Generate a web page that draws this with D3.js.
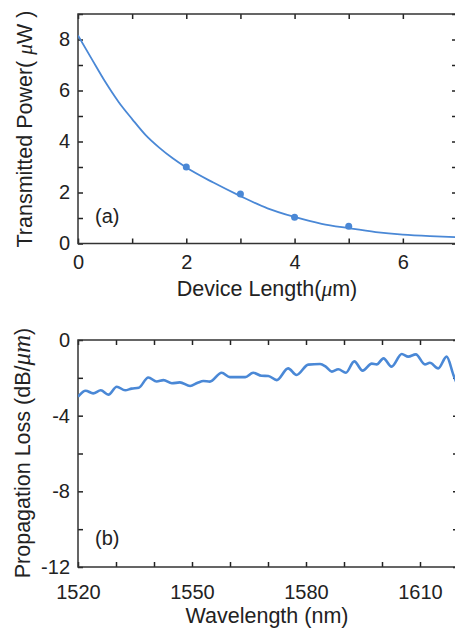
<!DOCTYPE html>
<html>
<head>
<meta charset="utf-8">
<script src="https://cdn.jsdelivr.net/npm/d3@7"></script>
<style>
  body { margin: 0; background: #fff; }
  svg { display: block; font-family: "Liberation Sans", Arial, sans-serif; }
  .tick line { stroke: #222; stroke-width: 1.5; }
  .tick text { fill: #222; font-size: 20px; }
  .frame { fill: none; stroke: #333; stroke-width: 1.5; }
  .title { fill: #222; font-size: 21.5px; }
  .mu { font-family: "Liberation Serif", "DejaVu Serif", serif; font-style: italic; }
</style>
</head>
<body>
<div id="chart"></div>
<script>
// Panel (a): transmitted power vs device length
var lengthPts = [2, 3, 4, 5];
var powerPts = [3.0, 1.94, 1.03, 0.68];
// fitted curve
var fitLength = [0, 0.25, 0.5, 0.75, 1, 1.25, 1.5, 1.75, 2, 2.5, 3, 3.5, 4, 4.5, 5, 5.5, 6, 6.5, 7];
var fitPower = [8.16, 7.25, 6.35, 5.55, 4.88, 4.25, 3.76, 3.34, 2.98, 2.39, 1.86, 1.38, 1.04, 0.77, 0.60, 0.45, 0.35, 0.29, 0.25];
var lengthTicks = [0, 2, 4, 6];
var powerTicks = [0, 2, 4, 6, 8];

// Panel (b): propagation loss vs wavelength
var wavelength = [1520, 1522, 1524, 1526, 1528, 1530.2, 1532.4, 1534.1, 1536, 1538.5,
  1540.7, 1542.5, 1544.7, 1546.8, 1549.5, 1551.5, 1553, 1554.7, 1557.8, 1560,
  1564, 1566.1, 1568.3, 1570.1, 1572.3, 1575.3, 1577.5, 1580.6, 1583.7, 1585.2,
  1586.8, 1588.5, 1590.5, 1592.7, 1594.9, 1597.3, 1598.6, 1600.4, 1602.5, 1605.2,
  1606.9, 1608.9, 1611.3, 1612.6, 1614.8, 1617, 1618.8, 1619.5, 1620];
var loss = [-3.0, -2.68, -2.82, -2.66, -2.89, -2.47, -2.66, -2.57, -2.52, -1.98,
  -2.19, -2.12, -2.29, -2.24, -2.43, -2.26, -2.17, -2.2, -1.73, -1.96,
  -1.96, -1.73, -1.89, -1.9, -2.12, -1.5, -1.85, -1.3, -1.27, -1.41,
  -1.67, -1.55, -1.73, -1.13, -1.62, -1.25, -1.29, -0.97, -1.41, -0.74,
  -0.88, -0.76, -1.29, -1.2, -1.5, -0.88, -1.85, -2.2, -2.4];
var wlTicks = [1520, 1550, 1580, 1610];
var lossTicks = [0, -4, -8, -12];

var W = 455, H = 633;
var blue = "#4a88d6";

var svg = d3.select("#chart").append("svg")
    .attr("width", W)
    .attr("height", H);

// generic panel with inward ticks on all four sides
function panel(cfg) {
  var x = d3.scaleLinear().domain(cfg.xDomain).range([cfg.left, cfg.right]);
  var y = d3.scaleLinear().domain(cfg.yDomain).range([cfg.bottom, cfg.top]);
  var g = svg.append("g");

  g.append("defs").append("clipPath")
      .attr("id", cfg.id)
    .append("rect")
      .attr("x", cfg.left).attr("y", cfg.top)
      .attr("width", cfg.right - cfg.left)
      .attr("height", cfg.bottom - cfg.top);

  g.append("g")
      .attr("transform", "translate(0," + cfg.bottom + ")")
      .call(d3.axisBottom(x).tickValues(cfg.xMinor).tickSize(-5).tickPadding(cfg.xPad)
        .tickFormat(function(d) { return cfg.xTicks.indexOf(d) >= 0 ? d : ""; }));
  g.append("g")
      .attr("transform", "translate(0," + cfg.top + ")")
      .call(d3.axisTop(x).tickValues(cfg.xMinor).tickSize(-5).tickFormat(""));
  g.append("g")
      .attr("transform", "translate(" + cfg.left + ",0)")
      .call(d3.axisLeft(y).tickValues(cfg.yMinor).tickSize(-5).tickPadding(8)
        .tickFormat(function(d) { return cfg.yTicks.indexOf(d) >= 0 ? d : ""; }));
  g.append("g")
      .attr("transform", "translate(" + cfg.right + ",0)")
      .call(d3.axisRight(y).tickValues(cfg.yMinor).tickSize(-5).tickFormat(""));

  g.selectAll(".domain").remove();
  g.selectAll(".tick text").attr("font-family", null).attr("font-size", null);

  g.append("rect")
      .attr("class", "frame")
      .attr("x", cfg.left).attr("y", cfg.top)
      .attr("width", cfg.right - cfg.left)
      .attr("height", cfg.bottom - cfg.top);

  return { g: g, x: x, y: y };
}

// ---- panel (a)
var a = panel({
  id: "clipA", left: 78, right: 457, top: 14, bottom: 243.5,
  xDomain: [0, 7], yDomain: [0, 9],
  xMinor: d3.range(0, 8), yMinor: d3.range(0, 10),
  xTicks: lengthTicks, yTicks: powerTicks, xPad: 11
});

var fitData = fitLength.map(function(d, i) { return { x: d, y: fitPower[i] }; });
a.g.append("path")
    .datum(fitData)
    .attr("clip-path", "url(#clipA)")
    .attr("fill", "none")
    .attr("stroke", blue)
    .attr("stroke-width", 1.8)
    .attr("d", d3.line()
      .curve(d3.curveMonotoneX)
      .x(function(d) { return a.x(d.x); })
      .y(function(d) { return a.y(d.y); }));

a.g.selectAll(".dot")
    .data(lengthPts)
  .enter().append("circle")
    .attr("class", "dot")
    .attr("r", 3.5)
    .attr("fill", blue)
    .attr("cx", function(d) { return a.x(d); })
    .attr("cy", function(d, i) { return a.y(powerPts[i]); });

a.g.append("text")
    .attr("x", 95).attr("y", 223)
    .style("font-size", "20px").attr("fill", "#222")
    .text("(a)");

var tA = a.g.append("text")
    .attr("class", "title")
    .attr("text-anchor", "middle")
    .attr("x", 267).attr("y", 296);
tA.append("tspan").text("Device Length(");
tA.append("tspan").attr("class", "mu").text("\u03bc");
tA.append("tspan").text("m)");

var yA = a.g.append("text")
    .attr("class", "title")
    .attr("text-anchor", "middle")
    .attr("transform", "translate(31.5,129) rotate(-90)");
yA.append("tspan").text("Transmitted Power( ");
yA.append("tspan").attr("class", "mu").text("\u03bc");
yA.append("tspan").text("W )");

// ---- panel (b)
var b = panel({
  id: "clipB", left: 78, right: 458, top: 340, bottom: 567,
  xDomain: [1520, 1620], yDomain: [-12, 0],
  xMinor: d3.range(1520, 1621, 10), yMinor: d3.range(-12, 1, 2),
  xTicks: wlTicks, yTicks: lossTicks, xPad: 18
});

var lossData = wavelength.map(function(d, i) { return { x: d, y: loss[i] }; });
b.g.append("path")
    .datum(lossData)
    .attr("clip-path", "url(#clipB)")
    .attr("fill", "none")
    .attr("stroke", blue)
    .attr("stroke-width", 2.6)
    .attr("stroke-linejoin", "round")
    .attr("d", d3.line()
      .curve(d3.curveMonotoneX)
      .x(function(d) { return b.x(d.x); })
      .y(function(d) { return b.y(d.y); }));

b.g.append("text")
    .attr("x", 95).attr("y", 545)
    .style("font-size", "20px").attr("fill", "#222")
    .text("(b)");

b.g.append("text")
    .attr("class", "title")
    .attr("text-anchor", "middle")
    .attr("x", 267).attr("y", 623)
    .text("Wavelength (nm)");

var yB = b.g.append("text")
    .attr("class", "title")
    .attr("text-anchor", "middle")
    .attr("transform", "translate(30,453) rotate(-90)");
yB.append("tspan").text("Propagation Loss (dB/");
yB.append("tspan").attr("class", "mu").style("font-size", "25px").text("\u03bcm");
yB.append("tspan").text(")");
</script>
</body>
</html>
